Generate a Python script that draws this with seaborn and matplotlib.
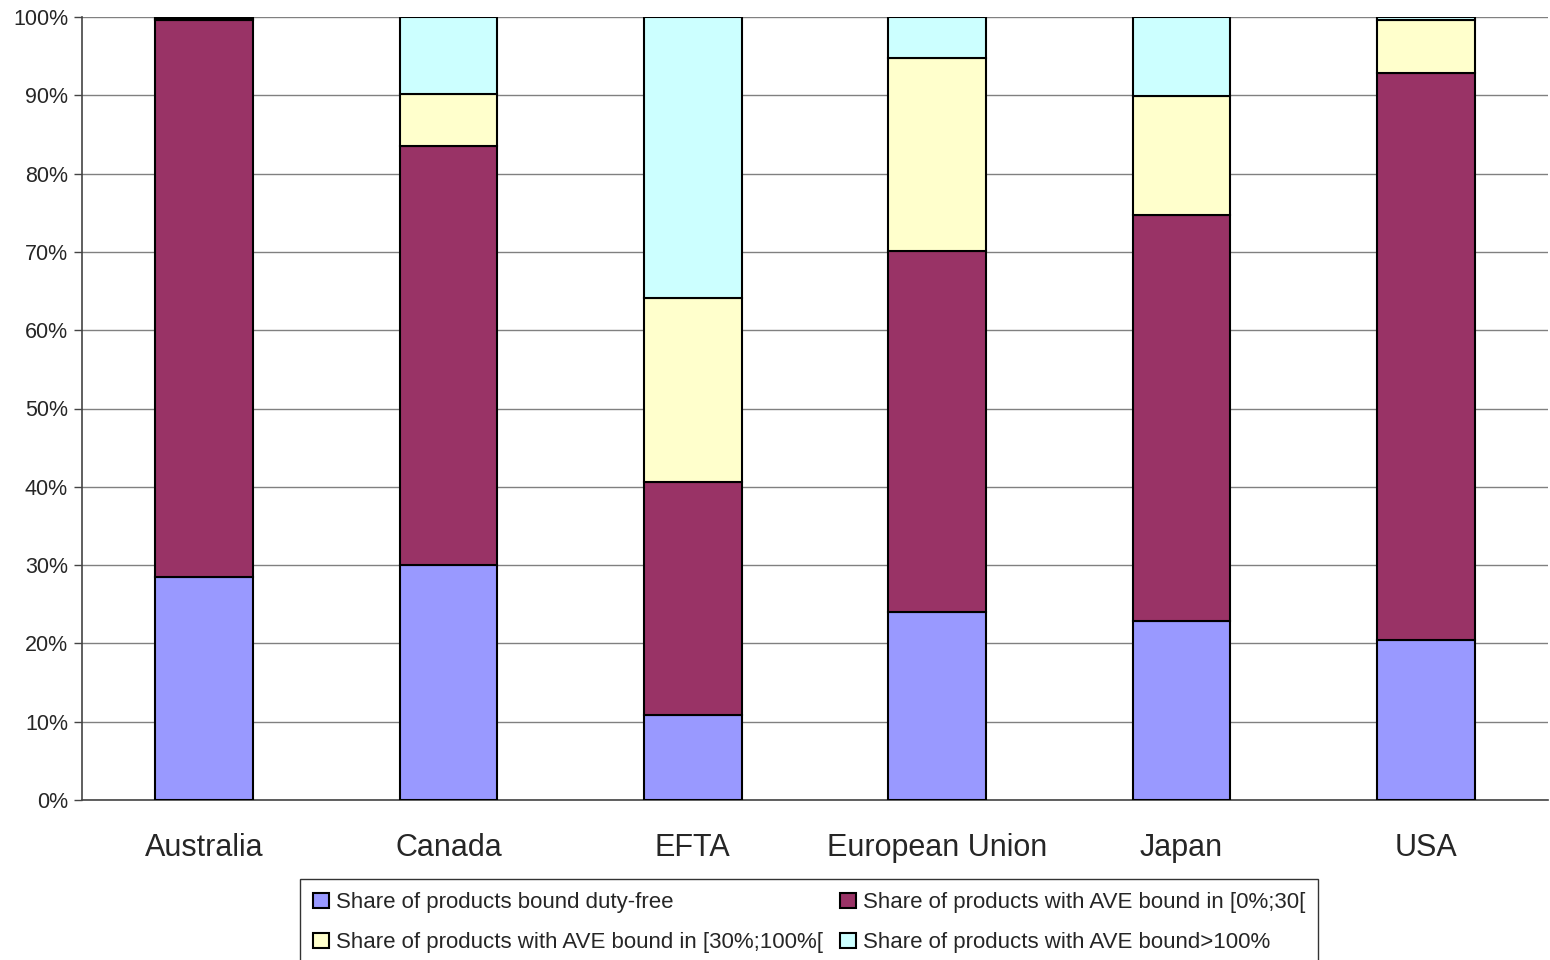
import numpy as np
import pandas as pd
import seaborn as sns
import matplotlib.pyplot as plt
from matplotlib.ticker import PercentFormatter

# Values (% of products)
countries = ['Australia', 'Canada', 'EFTA', 'European Union', 'Japan', 'USA']
duty_free = [28.5, 30.0, 10.9, 24.0, 22.9, 20.4]
ave_0_30 = [71.1, 53.5, 29.7, 46.1, 51.8, 72.4]
ave_30_100 = [0.2, 6.7, 23.5, 24.7, 15.2, 6.8]
ave_over_100 = [0.2, 9.8, 35.9, 5.2, 10.1, 0.4]

series = ['Share of products bound duty-free',
          'Share of products with AVE bound in [0%;30[',
          'Share of products with AVE bound in [30%;100%[',
          'Share of products with AVE bound>100%']
colors = ['#9999FF', '#993366', '#FFFFCC', '#CCFFFF']

df = pd.DataFrame({'country': countries,
                   series[0]: duty_free,
                   series[1]: ave_0_30,
                   series[2]: ave_30_100,
                   series[3]: ave_over_100})

sns.set_style('white')
plt.rcParams['font.family'] = ['Liberation Sans', 'DejaVu Sans']

fig = plt.figure(figsize=(15.5, 9.6), dpi=100)
ax = fig.add_axes([82 / 1550, 1 - 800 / 960, 1466 / 1550, 783 / 960])

bottom = np.zeros(len(countries))
for name, col in zip(series, colors):
    sns.barplot(data=df, x='country', y=name, bottom=bottom, color=col,
                saturation=1, width=0.4, edgecolor='black', linewidth=1.5,
                label=name, ax=ax, zorder=3)
    bottom += df[name].values

handles, labels = ax.get_legend_handles_labels()
if ax.get_legend() is not None:
    ax.get_legend().remove()

ax.set_ylim(0, 100)
ax.set_xlim(-0.5, len(countries) - 0.5)
ax.set_yticks(range(0, 101, 10))
ax.yaxis.set_major_formatter(PercentFormatter(decimals=0))
ax.grid(axis='y', color='#808080', linewidth=1, zorder=0)
ax.set_xlabel('')
ax.set_ylabel('')

for s in ['top', 'right']:
    ax.spines[s].set_visible(False)
for s in ['left', 'bottom']:
    ax.spines[s].set_color('#444444')
    ax.spines[s].set_linewidth(1.2)

# ticks between categories on the x axis, labels centred under bars
ax.set_xticks(np.arange(len(countries)))
ax.set_xticklabels(countries, fontsize=22)
ax.tick_params(axis='x', length=0, pad=24)
ax.set_xticks(np.arange(-0.5, len(countries)), minor=True)
ax.tick_params(axis='x', which='minor', length=7, color='#444444', width=1)
ax.tick_params(axis='y', labelsize=15.5, length=6, color='#444444',
               width=1, left=True, pad=4)

# legend filled row by row, as in the original
order = [0, 2, 1, 3]
leg = fig.legend([handles[i] for i in order], [labels[i] for i in order],
                 ncol=2, loc='upper left',
                 bbox_to_anchor=(300 / 1550, 1 - 879 / 960),
                 fontsize=16, frameon=True, fancybox=False,
                 edgecolor='black', handlelength=0.7, handleheight=0.7,
                 handletextpad=0.3, columnspacing=0.8, labelspacing=0.85,
                 borderpad=0.6, borderaxespad=0)
leg.get_frame().set_linewidth(1)

fig.savefig('out.png', dpi=100)
